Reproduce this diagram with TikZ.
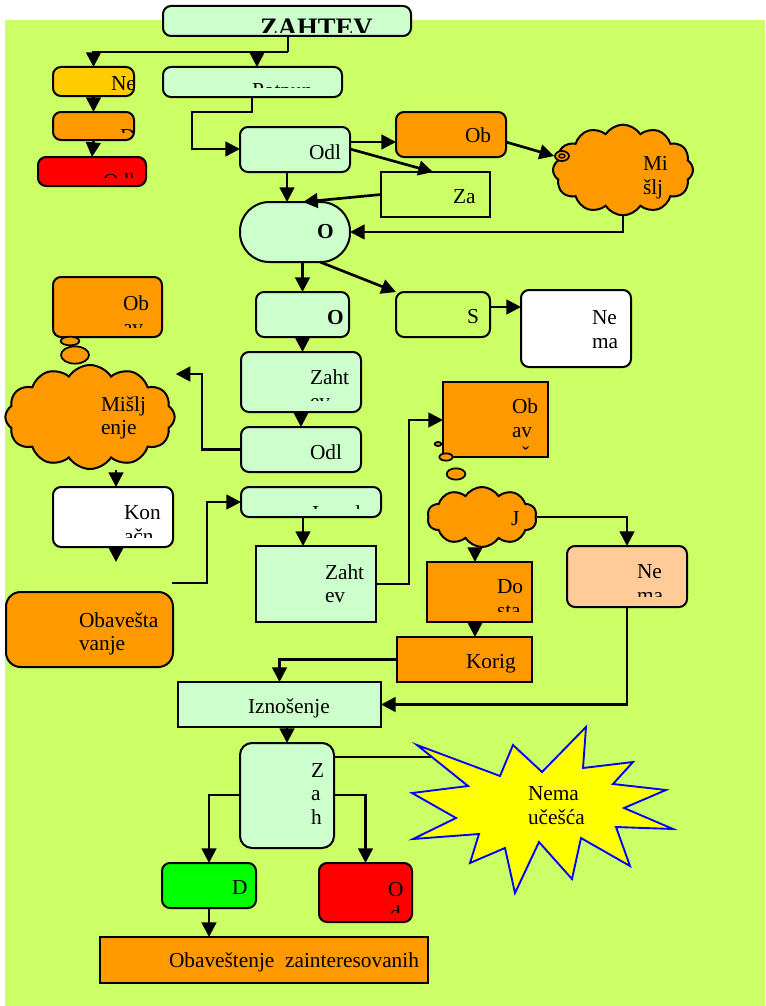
\documentclass[tikz,border=0pt]{standalone}
\usepackage{fontspec}
\setmainfont{Liberation Serif}
\usetikzlibrary{arrows.meta,shapes.symbols,shapes.geometric,calc}
\definecolor{bgl}{HTML}{CCFF66}
\definecolor{lgr}{HTML}{CCFFCC}
\definecolor{gld}{HTML}{FFCC00}
\definecolor{orng}{HTML}{FF9900}
\definecolor{rd}{HTML}{FF0000}
\definecolor{pch}{HTML}{FFCC99}
\definecolor{grn}{HTML}{00FF00}
\definecolor{yel}{HTML}{FFFF00}
\definecolor{blu}{HTML}{0000FF}
\tikzset{
  bx/.style={draw=black,line width=1.5pt,inner sep=0pt,outer sep=0pt},
  rbx/.style={bx,rounded corners=6pt},
  conn/.style={line width=2pt,draw=black},
  arr/.style={conn,-{Triangle[length=11pt,width=11pt]}},
  txt/.style={font=\fontsize{16}{19}\selectfont,inner sep=0pt,outer sep=0pt},
  cloudy/.style={cloud,cloud puffs=12,cloud puff arc=115,cloud ignores aspect,draw=black,line width=1.5pt,fill=orng,inner sep=0pt},
  bub/.style={ellipse,draw=black,line width=1.3pt,fill=orng,inner sep=0pt},
}
\newcommand\bx[6]{\node[#1,minimum width={(#5-#3)*0.75pt},minimum height={(#6-#4)*0.75pt}] (#2) at ({(#3+#5)/2},{(#4+#6)/2}) {};}
\newcommand\cliptxt[8]{\begin{scope}\clip (#2,#3) rectangle (#4,#5);\node[txt,anchor=base west,#1] (#6) at (#7) {#8};\end{scope}}
\newcommand\tx[3]{\node[txt,anchor=base west] (#1) at (#2) {#3};}
\begin{document}
\begin{tikzpicture}[x=0.75pt,y=-0.75pt]
\useasboundingbox (0,0) rectangle (765,1006);
\fill[white] (0,0) rectangle (765,1006);
\fill[bgl] (5,20) rectangle (765,1006);
% helper coordinates
\coordinate (j1) at (288,52);
\coordinate (j2) at (257,52);
\coordinate (j3) at (252,112);
\coordinate (j4) at (192,149);
\coordinate (y142) at (0,142);
\coordinate (y149) at (0,149);
\coordinate (x287) at (287,0);
\coordinate (x303) at (303,0);
\coordinate (x320) at (320,0);
\coordinate (y307) at (0,307);
\coordinate (k1) at (202,374);
\coordinate (x116) at (116,0);
\coordinate (kend) at (116,562);
\coordinate (fs) at (172,583);
\coordinate (y584) at (0,584);
\coordinate (k2) at (409,420);
\coordinate (x475) at (475,0);
\coordinate (y757) at (0,757);
\coordinate (y795) at (0,795);
\coordinate (starL) at (431,757);
\coordinate (zat) at (433,172);
% nodes
\bx{rbx,fill=lgr}{zahtev}{163}{6}{411}{36}
\bx{rbx,fill=gld}{ne}{53}{67}{134}{96}
\bx{rbx,fill=orng}{dd}{53}{112}{134}{140}
\bx{rbx,fill=rd}{odlr}{38}{157}{146}{186}
\bx{rbx,fill=lgr}{potpun}{163}{67}{342}{97}
\bx{rbx,fill=lgr}{odl}{240}{127}{350}{172}
\bx{rbx,fill=orng}{ob}{396}{112}{506}{157}
\bx{bx}{za}{381}{172}{490}{217}
\node[cloudy,minimum width=105pt,minimum height=68pt] (cl1) at (623,170) {};
\node[bub,minimum width=10.5pt,minimum height=7.5pt] (sp) at (562,156) {};
\node[ellipse,draw=black,line width=1pt,inner sep=0pt,minimum width=4.5pt,minimum height=3pt] (spi) at (562,156) {};
\bx{bx,rounded corners=22pt,fill=lgr}{o1}{240}{202}{350}{262}
\bx{rbx,fill=lgr}{o2}{256}{292}{349}{337}
\bx{rbx}{s}{396}{292}{490}{337}
\bx{rbx,fill=white}{nema}{521}{290}{631}{367}
\bx{rbx,fill=lgr}{zaht}{241}{352}{361}{412}
\bx{rbx,fill=lgr}{odl2}{241}{427}{361}{472}
\bx{rbx,fill=orng}{ob2}{53}{277}{162}{337}
\node[bub,minimum width=14pt,minimum height=6.5pt] (b1) at (70,341) {};
\node[bub,minimum width=21pt,minimum height=13pt] (b2) at (75,355) {};
\node[cloudy,minimum width=127pt,minimum height=78pt] (cl2) at (90,417) {};
\bx{rbx,fill=white}{kon}{53}{487}{173}{547}
\bx{rbx,fill=lgr}{izv}{241}{487}{381}{517}
\bx{bx,fill=lgr}{zahtev2}{256}{546}{376}{622}
\bx{bx,rounded corners=11pt,fill=orng}{obv}{6}{592}{173}{667}
\bx{bx,fill=orng}{ob3}{443}{382}{548}{457}
\node[bub,minimum width=5pt,minimum height=3pt] (b3) at (438,444) {};
\node[bub,minimum width=10pt,minimum height=5.5pt] (b4) at (446,457) {};
\node[bub,minimum width=14pt,minimum height=8.5pt] (b5) at (456,474) {};
\node[cloudy,cloud puffs=10,minimum width=82pt,minimum height=45pt] (cl3) at (482,517) {};
\bx{bx,fill=orng}{do}{427}{562}{532}{622}
\bx{rbx,fill=pch}{nema2}{567}{546}{687}{607}
\bx{bx,fill=orng}{korig}{397}{637}{532}{682}
\bx{bx,fill=lgr}{izn}{178}{682}{381}{727}
\bx{rbx,rounded corners=9pt,fill=lgr}{zah}{240}{743}{334}{848}
\bx{rbx,fill=grn}{dgr}{162}{863}{256}{908}
\bx{rbx,fill=rd}{ored}{319}{863}{412}{922}
\bx{bx,fill=orng}{obz}{100}{937}{428}{983}
% connectors
\draw[conn] (zahtev.south -| j1) -- (j1);
\draw[arr] (j1) -| (ne.north);
\draw[arr] (j2) -- (j2 |- potpun.north);
\draw[arr] (ne.south) -- (dd.north);
\draw[arr] (dd.south) -- (odlr.north);
\draw[arr] (potpun.south -| j3) -- (j3) -| (j4) -- (j4 -| odl.west);
\draw[arr] (odl.east |- y142) -- (ob.west |- y142);
\draw[arr] (odl.east |- y149) -- (zat);
\draw[arr] (odl.south -| x287) -- (o1.north -| x287);
\draw[arr] (za.west) -- (o1.north -| x303);
\draw[arr] (ob.east |- y142) -- (sp.west);
\draw[arr] (cl1.south) |- (o1.east);
\draw[arr] (o1.south -| o2.north) -- (o2.north);
\draw[arr] (o1.south -| x320) -- (s.north west);
\draw[arr] (s.east |- y307) -- (nema.west |- y307);
\draw[arr] (o2.south) -- (o2.south |- zaht.north);
\draw[arr] (zaht.south) -- (zaht.south |- odl2.north);
\draw[arr] (odl2.west) -| (k1) -- (k1 -| cl2.east);
\draw[arr] (cl2.south -| x116) -- (kon.north -| x116);
\draw[arr] (kon.south -| x116) -- (kend);
\draw[arr] (fs) -| (izv.west -| 207,0) -- (izv.west);
\draw[arr] (izv.south -| x303) -- (zahtev2.north -| x303);
\draw[arr] (zahtev2.east |- y584) -| (k2) -- (ob3.west |- k2);
\draw[arr] (cl3.south -| x475) -- (do.north -| x475);
\draw[arr] (cl3.east) -| (nema2.north);
\draw[arr] (do.south -| x475) -- (korig.north -| x475);
\draw[arr] (korig.west) -| (izn.north);
\draw[arr] (nema2.south) |- (izn.east);
\draw[arr] (izn.south -| zah.north) -- (zah.north);
\draw[conn] (zah.east |- y757) -- (starL);
\draw[arr] (zah.west |- y795) -| (dgr.north);
\draw[arr] (zah.east |- y795) -| (ored.north);
\draw[arr] (dgr.south) -- (dgr.south |- obz.north);
% star
\draw[blu,fill=yel,line width=1.4pt,line join=miter] (586,727) -- (583,768) -- (633,762) -- (613,784) -- (666,790) -- (624,808) -- (673,829) -- (616,827) -- (630,866) -- (581,838) -- (572,879) -- (539,842) -- (515,893) -- (505,848) -- (470,863) -- (479,834) -- (413,839) -- (456,818) -- (412,793) -- (468,786) -- (417,745) -- (500,776) -- (513,745) -- (542,772) -- cycle;
% texts
\cliptxt{font=\fontsize{20}{24}\selectfont\bfseries}{163}{6}{411}{33}{tZ}{260,37}{ZAHTEV}
\cliptxt{}{53}{67}{133}{96}{tNe}{111,90}{Ne}
\cliptxt{}{53}{112}{134}{132}{tD}{120,143}{D}
\cliptxt{}{38}{157}{146}{177}{tOdlr}{103,188}{Odl}
\cliptxt{}{163}{67}{342}{88}{tPot}{252,98}{Potpun}
\tx{tOdl}{309,159}{Odl}
\tx{tOb}{465,142}{Ob}
\tx{tZa}{453,203}{Za}
\tx{tMi}{643,170}{Mi}
\tx{tslj}{643,194}{šlj}
\node[txt,anchor=base west,font=\fontsize{16}{19}\selectfont\bfseries] (tO1) at (317,238) {O};
\node[txt,anchor=base west,font=\fontsize{16}{19}\selectfont\bfseries] (tO2) at (327,324) {O};
\tx{tS}{467,323}{S}
\tx{tNe2}{592,324}{Ne}
\tx{tma2}{592,348}{ma}
\tx{tOb2}{123,310}{Ob}
\cliptxt{}{53}{277}{162}{327}{tav2}{123,334}{av}
\tx{tZaht}{310,384}{Zaht}
\cliptxt{}{241}{352}{361}{400}{tev1}{310,408}{ev}
\tx{tOdl2}{310,459}{Odl}
\tx{tMis}{101,411}{Mišlj}
\tx{tenje}{101,434}{enje}
\tx{tKon}{124,519}{Kon}
\cliptxt{}{53}{487}{173}{537}{tacn}{124,543}{ačn}
\cliptxt{}{241}{487}{381}{508}{tIzv}{312,520}{Izvod}
\tx{tZah2}{325,579}{Zaht}
\tx{tev2}{325,602}{ev}
\tx{tOb3}{512,413}{Ob}
\tx{tav3}{512,437}{av}
\cliptxt{}{443}{382}{548}{449}{tes3}{512,461}{eš}
\tx{tJ}{511,525}{J}
\tx{tDo}{497,593}{Do}
\cliptxt{}{427}{562}{532}{611}{tsta}{497,617}{sta}
\tx{tNe3}{637,578}{Ne}
\cliptxt{}{567}{546}{687}{596}{tma3}{637,602}{ma}
\tx{tKor}{466,668}{Korig}
\tx{tIzn}{248,713}{Iznošenje}
\tx{tObv1}{79,627}{Obavešta}
\tx{tObv2}{79,650}{vanje}
\tx{tZ1}{311,777}{Z}
\tx{tZ2}{311,800}{a}
\tx{tZ3}{311,824}{h}
\tx{tDg}{232,894}{D}
\tx{tOr}{388,896}{O}
\cliptxt{}{319}{863}{412}{912}{tdr}{390,920}{d}
\tx{tObz}{169,967}{Obaveštenje\ \ zainteresovanih}
\tx{tNema}{528,800}{Nema}
\tx{tuc}{528,824}{učešća}
\end{tikzpicture}
\end{document}
